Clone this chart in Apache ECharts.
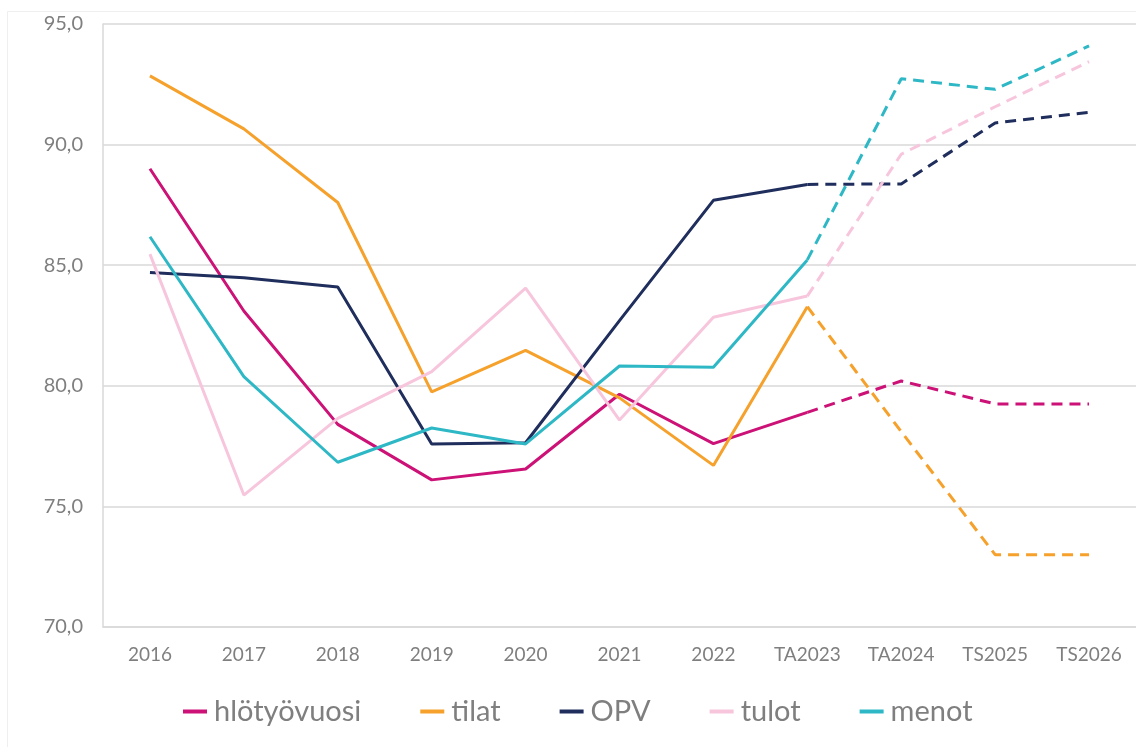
<!DOCTYPE html>
<html>
<head>
<meta charset="utf-8">
<style>
  html, body { margin: 0; padding: 0; background: #fff; }
  #chart { width: 1136px; height: 747px; }
</style>
<script src="https://cdn.jsdelivr.net/npm/echarts@6/dist/echarts.min.js"></script>
</head>
<body>
<div id="chart"></div>
<script>
let years = ['2016','2017','2018','2019','2020','2021','2022','TA2023','TA2024','TS2025','TS2026'];
let yTicks = [70, 75, 80, 85, 90, 95];

let hlotyovuosi = [89.0, 83.1, 78.4, 76.1, 76.55, 79.65, 77.6, 78.9, 80.2, 79.25, 79.25];
let tilat       = [92.85, 90.65, 87.6, 79.75, 81.47, 79.5, 76.7, 83.28, 78.1, 73.0, 73.0];
let opv         = [84.7, 84.48, 84.1, 77.59, 77.64, 82.7, 87.69, 88.35, 88.37, 90.9, 91.34];
let tulot       = [85.46, 75.47, 78.65, 80.59, 84.05, 78.58, 82.84, 83.72, 89.6, 91.57, 93.44];
let menot       = [86.18, 80.38, 76.83, 78.25, 77.59, 80.82, 80.77, 85.22, 92.73, 92.29, 94.09];

// index where the forecast (dashed) part begins
let splitIdx = 7;

let names = ['hlötyövuosi','tilat','OPV','tulot','menot'];
let values = [hlotyovuosi, tilat, opv, tulot, menot];
let colors = ['#CC1177','#F5A12B','#1F2E5C','#F7C6DD','#2EB8C6'];

let myChart = echarts.init(document.getElementById('chart'));

let series = [];
names.forEach((name, i) => {
    // actual part, solid
    series.push({
        name: name,
        type: 'line',
        symbol: 'none',
        z: 2 + i,
        lineStyle: { width: 3, color: colors[i] },
        itemStyle: { color: colors[i] },
        data: values[i].map((v, k) => k <= splitIdx ? v : null)
    });
    // forecast part, dashed
    series.push({
        name: name,
        type: 'line',
        symbol: 'none',
        z: 2 + i,
        lineStyle: { width: 3, color: colors[i], type: [11, 7] },
        itemStyle: { color: colors[i] },
        data: values[i].map((v, k) => k >= splitIdx ? v : null)
    });
});

myChart.setOption({
    animation: false,
    textStyle: { fontFamily: 'Lato' },
    graphic: [{
        type: 'rect',
        shape: { x: 7.5, y: 11.5, width: 1200, height: 800 },
        style: { fill: 'none', stroke: '#efefef', lineWidth: 1 },
        silent: true
    }],
    grid: { left: 103, right: -4, top: 24, bottom: 120, containLabel: false },
    legend: {
        data: names,
        left: 178,
        top: 692,
        icon: 'rect',
        itemWidth: 24,
        itemHeight: 4,
        itemGap: 59,
        textStyle: { fontSize: 29, color: '#7f7f7f', fontFamily: 'Lato', padding: [0, 0, 0, 2] }
    },
    xAxis: {
        type: 'category',
        data: years,
        boundaryGap: true,
        axisLine: { lineStyle: { color: '#d9d9d9', width: 1.5 } },
        axisTick: { show: false },
        axisLabel: { color: '#7f7f7f', fontSize: 19, margin: 18 }
    },
    yAxis: {
        type: 'value',
        min: yTicks[0],
        max: yTicks[yTicks.length - 1],
        interval: 5,
        axisLine: { show: true, lineStyle: { color: '#d9d9d9', width: 1.5 } },
        axisTick: { show: false },
        splitLine: { lineStyle: { color: '#d9d9d9', width: 1.5 } },
        axisLabel: {
            color: '#7f7f7f',
            fontSize: 20,
            margin: 20,
            formatter: v => v.toFixed(1).replace('.', ',')
        }
    },
    series: series
});
</script>
</body>
</html>
